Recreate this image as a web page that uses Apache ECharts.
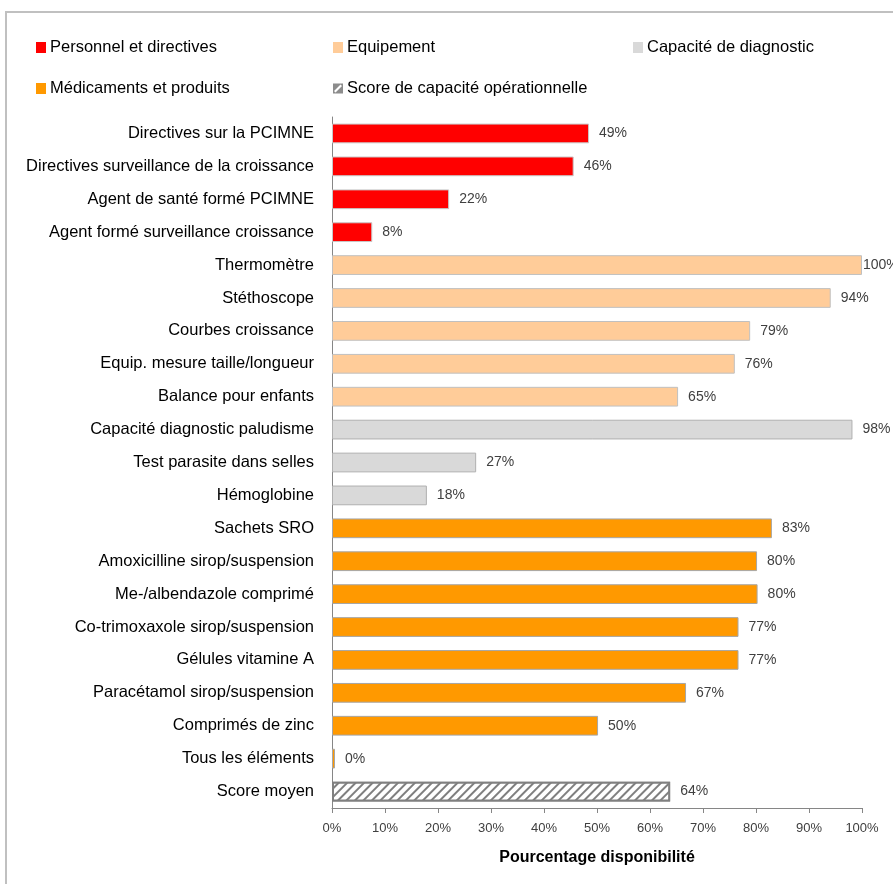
<!DOCTYPE html>
<html><head><meta charset="utf-8">
<script src="https://cdn.jsdelivr.net/npm/echarts@6/dist/echarts.min.js"></script>
<style>html,body{margin:0;padding:0;background:#fff}#c{width:893px;height:884px}</style>
</head><body><div id="c"></div>
<script>
const categories = [
  "Directives sur la PCIMNE","Directives surveillance de la croissance","Agent de santé formé PCIMNE","Agent formé surveillance croissance",
  "Thermomètre","Stéthoscope","Courbes croissance","Equip. mesure taille/longueur","Balance pour enfants",
  "Capacité diagnostic paludisme","Test parasite dans selles","Hémoglobine",
  "Sachets SRO","Amoxicilline sirop/suspension","Me-/albendazole comprimé","Co-trimoxaxole sirop/suspension","Gélules vitamine A","Paracétamol sirop/suspension","Comprimés de zinc","Tous les éléments",
  "Score moyen"
];
const personnel = [48.5,45.6,22.1,7.6];
const equipement = [100,94.1,78.9,76,65.3];
const diagnostic = [98.2,27.2,17.9];
const medicaments = [83,80.2,80.3,76.7,76.7,66.8,50.2,0];
const score = [63.8];
const groupNames = ["Personnel et directives","Equipement","Capacité de diagnostic","Médicaments et produits","Score de capacité opérationnelle"];
const xTicks = [0,10,20,30,40,50,60,70,80,90,100];

function place(vals, start){
  const arr = categories.map(()=>'-');
  vals.forEach((v,i)=>arr[start+i]=v);
  return arr;
}
const groups = [personnel, equipement, diagnostic, medicaments, score];
const colors = ['#ff0000','#ffcc99','#d9d9d9','#ff9900','#ffffff'];
const borders = ['#c8c8c8','#c0c0c0','#b0b0b0','#c0c0c0','#808080'];
let start = 0;
const series = groups.map((g,gi)=>{
  const s = {
    name: groupNames[gi], type:'bar', stack:'all', barCategoryGap:'40%',
    data: place(g,start), barMinHeight: 3,
    itemStyle:{color:colors[gi], borderColor:borders[gi], borderWidth:1},
    label:{show:true, position:'right', distance:10, formatter: p=>Math.round(p.value)+'%',
      fontFamily:'Liberation Sans, Arial', fontSize:14, color:'#404040'},
    labelLayout: function(p){ if(p.text==='100%'){ return {x: p.rect.x + p.rect.width + 1, y: p.rect.y + p.rect.height/2, align:'left', verticalAlign:'middle'}; } return {}; },
    emphasis:{disabled:true}
  };
  if(gi===3){ s.itemStyle.borderColor = '#a6a6a6'; }
  if(gi===4){
    s.itemStyle = {color:'#ffffff', borderColor:'#808080', borderWidth:2,
      decal:{symbol:'rect', color:'#7f7f7f', backgroundColor:'#ffffff', dashArrayX:[1,0], dashArrayY:[2,4], rotation:-Math.PI/4}};
  }
  start += g.length;
  return s;
});
const legendPos = [[31,34],[328,34],[628,34],[31,75],[328,75]];
const legends = groupNames.map((n,i)=>({
  data:[n], left:legendPos[i][0], top:legendPos[i][1], itemWidth:10, itemHeight:11, itemGap:4,
  icon: i===4 ? 'path://M0,0L10,0L10,10L0,10Z M1,7.5L2.5,9L9,2.5L7.5,1Z' : 'rect', selectedMode:false,
  itemStyle: i===4 ? {color:'#8c8c8c', borderWidth:0, decal:'none'} : {borderWidth:0},
  textStyle:{fontFamily:'Liberation Sans, Arial', fontSize:16.5, color:'#000', padding:[0,0,0,-1]}
}));
const chart = echarts.init(document.getElementById('c'), null, {renderer:'canvas'});
chart.setOption({
  animation:false,
  backgroundColor:'#fff',
  graphic:[{type:'rect', shape:{x:6,y:12,width:900,height:900}, style:{fill:'none', stroke:'#c0c0c0', lineWidth:2}}],
  legend: legends,
  grid:{left:332, right:31, top:117, bottom:76, containLabel:false},
  xAxis:{type:'value', min:0, max:100, interval:10,
    axisLine:{show:true, lineStyle:{color:'#868686'}},
    axisTick:{show:true, length:5, lineStyle:{color:'#868686'}},
    splitLine:{show:false},
    axisLabel:{formatter: v=> xTicks.includes(v)? v+'%':'', fontFamily:'Liberation Sans, Arial', fontSize:13, color:'#404040', margin:14},
    name:'Pourcentage disponibilité', nameLocation:'middle', nameGap:42,
    nameTextStyle:{fontFamily:'Liberation Sans, Arial', fontSize:16, fontWeight:'bold', color:'#000'}
  },
  yAxis:{type:'category', data:categories, inverse:true,
    axisLine:{show:true, lineStyle:{color:'#868686'}},
    axisTick:{show:false},
    axisLabel:{fontFamily:'Liberation Sans, Arial', fontSize:16.5, color:'#000', margin:18}
  },
  series: series
});
</script></body></html>
